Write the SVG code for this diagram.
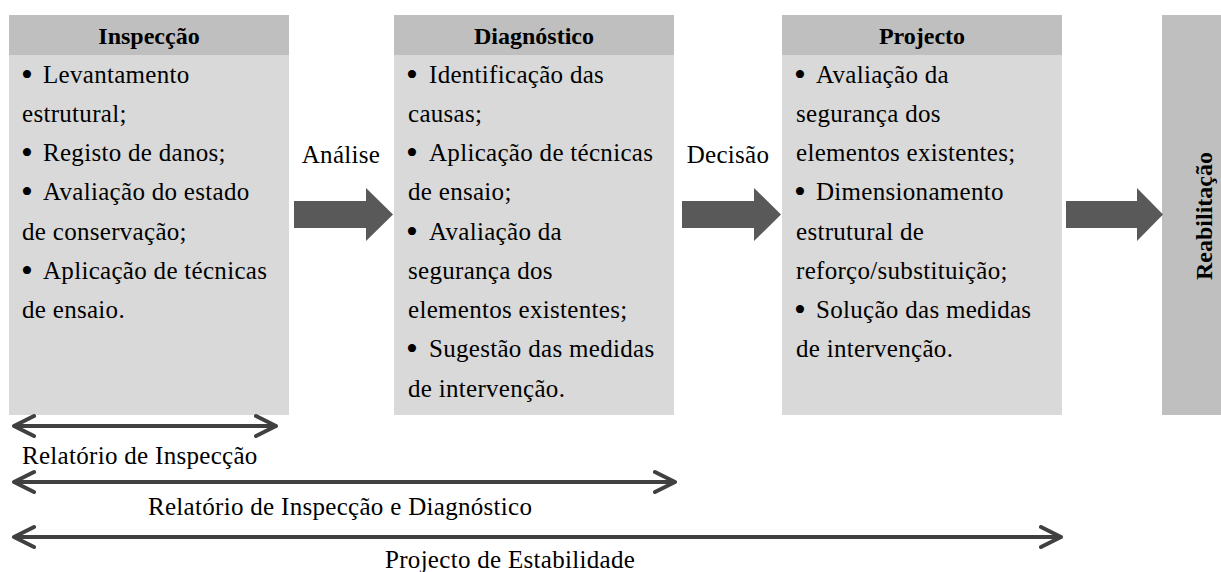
<svg xmlns="http://www.w3.org/2000/svg" width="1221" height="572" viewBox="0 0 1221 572">
<style>
.hd{fill:#bfbfbf}
.bd{fill:#d9d9d9}
.h{font-family:"Liberation Serif",serif;font-weight:bold;font-size:24px;fill:#000;text-anchor:middle}
.t{font-family:"Liberation Serif",serif;font-size:25px;fill:#000;letter-spacing:0.3px}
.b{font-size:34px}
.blk{fill:#595959}
.ln{stroke:#404040;stroke-width:4;fill:none;stroke-linecap:round;stroke-linejoin:round}
</style>
<rect width="1221" height="572" fill="#fff"/>
<g id="inspeccao">
<rect class="bd" x="9" y="15" width="280" height="400"/>
<rect class="hd" x="9" y="15" width="280" height="40"/>
<text class="h" x="149" y="44">Inspecção</text>
<text class="t"><tspan class="b" x="21" y="86">•</tspan><tspan x="43" y="83">Levantamento</tspan></text>
<text class="t" x="22" y="122">estrutural;</text>
<text class="t"><tspan class="b" x="21" y="164">•</tspan><tspan x="43" y="161">Registo de danos;</tspan></text>
<text class="t"><tspan class="b" x="21" y="203">•</tspan><tspan x="43" y="200">Avaliação do estado</tspan></text>
<text class="t" x="22" y="240">de conservação;</text>
<text class="t"><tspan class="b" x="21" y="282">•</tspan><tspan x="43" y="279">Aplicação de técnicas</tspan></text>
<text class="t" x="22" y="318">de ensaio.</text>
</g>
<g id="diagnostico">
<rect class="bd" x="394" y="15" width="280" height="400"/>
<rect class="hd" x="394" y="15" width="280" height="40"/>
<text class="h" x="534" y="44">Diagnóstico</text>
<text class="t"><tspan class="b" x="406" y="86">•</tspan><tspan x="429" y="83">Identificação das</tspan></text>
<text class="t" x="408" y="122">causas;</text>
<text class="t"><tspan class="b" x="406" y="164">•</tspan><tspan x="429" y="161">Aplicação de técnicas</tspan></text>
<text class="t" x="408" y="200">de ensaio;</text>
<text class="t"><tspan class="b" x="406" y="243">•</tspan><tspan x="429" y="240">Avaliação da</tspan></text>
<text class="t" x="408" y="279">segurança dos</text>
<text class="t" x="408" y="318">elementos existentes;</text>
<text class="t"><tspan class="b" x="406" y="360">•</tspan><tspan x="429" y="357">Sugestão das medidas</tspan></text>
<text class="t" x="408" y="397">de intervenção.</text>
</g>
<g id="projecto">
<rect class="bd" x="782" y="15" width="280" height="400"/>
<rect class="hd" x="782" y="15" width="280" height="40"/>
<text class="h" x="922" y="44">Projecto</text>
<text class="t"><tspan class="b" x="794" y="86">•</tspan><tspan x="816" y="83">Avaliação da</tspan></text>
<text class="t" x="796" y="122">segurança dos</text>
<text class="t" x="796" y="161">elementos existentes;</text>
<text class="t"><tspan class="b" x="794" y="203">•</tspan><tspan x="816" y="200">Dimensionamento</tspan></text>
<text class="t" x="796" y="240">estrutural de</text>
<text class="t" x="796" y="279">reforço/substituição;</text>
<text class="t"><tspan class="b" x="794" y="321">•</tspan><tspan x="816" y="318">Solução das medidas</tspan></text>
<text class="t" x="796" y="357">de intervenção.</text>
</g>
<g id="reabilitacao">
<rect class="hd" x="1162" y="15" width="59" height="400"/>
<text class="h" transform="translate(1212,216) rotate(-90)" x="0" y="0">Reabilitação</text>
</g>
<g id="connectors">
<polygon class="blk" points="294,201 366,201 366,188 393,214.5 366,241 366,228 294,228"/>
<polygon class="blk" points="682,201 754,201 754,188 781,214.5 754,241 754,228 682,228"/>
<polygon class="blk" points="1066,201 1137,201 1137,188 1163,214.5 1137,241 1137,228 1066,228"/>
<text class="t" x="341" y="163" text-anchor="middle">Análise</text>
<text class="t" x="728" y="163" text-anchor="middle">Decisão</text>
<path class="ln" d="M14,426 H276 M34,416 L14,426 L34,436 M256,416 L276,426 L256,436"/>
<path class="ln" d="M14,482 H675 M34,472 L14,482 L34,492 M655,472 L675,482 L655,492"/>
<path class="ln" d="M14,537 H1061 M34,527 L14,537 L34,547 M1041,527 L1061,537 L1041,547"/>
<text class="t" x="22" y="464">Relatório de Inspecção</text>
<text class="t" x="148" y="515">Relatório de Inspecção e Diagnóstico</text>
<text class="t" x="385" y="568">Projecto de Estabilidade</text>
</g>
</svg>
